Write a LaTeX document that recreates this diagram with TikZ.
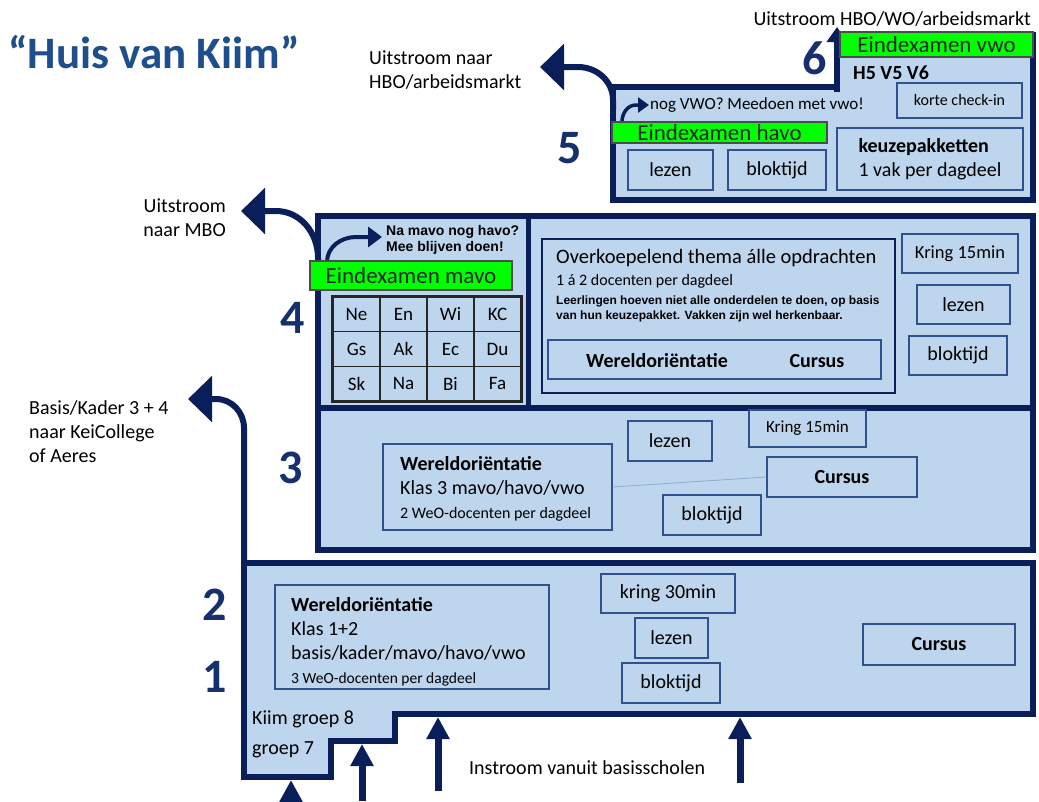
\documentclass[tikz,border=0pt]{standalone}
\usepackage{fontspec}
\setmainfont{Carlito}
\newfontfamily\arialfont{Liberation Sans}
\usetikzlibrary{arrows.meta,positioning}

\definecolor{navy}{RGB}{10,30,90}
\definecolor{numblue}{RGB}{22,48,110}
\definecolor{kiimblue}{RGB}{31,78,140}
\definecolor{lightfill}{RGB}{189,214,238}
\definecolor{boxline}{RGB}{47,82,143}
\definecolor{examgreen}{RGB}{0,255,0}
\definecolor{linkblue}{RGB}{140,172,210}

\tikzset{
  wall/.style={draw=navy, line width=6pt, fill=lightfill},
  exit/.style={draw=navy, line width=6pt, -{Triangle[width=45pt,length=24pt]}},
  entry/.style={draw=navy, line width=7pt, -{Triangle[width=22pt,length=22pt]}},
  hook/.style={draw=navy, line width=4pt, -{Triangle[width=20pt,length=14pt]}},
  part/.style={draw=boxline, line width=1.3pt, fill=lightfill, inner sep=0pt,
    font=\fontsize{20}{24}\selectfont},
  exam/.style={draw=black!70, line width=1.3pt, fill=examgreen, inner sep=0pt,
    text=black!85, font=\fontsize{23}{26}\selectfont},
  vak/.style={draw=black!85, line width=1.3pt, minimum width=47, minimum height=34.67,
    inner sep=0pt, font=\fontsize{19}{22}\selectfont},
  lbl/.style={inner sep=0pt, font=\fontsize{20}{24}\selectfont},
  bignum/.style={inner sep=0pt, text=numblue, font=\fontsize{48}{50}\selectfont\bfseries}
}

\begin{document}
\begin{tikzpicture}[x=1pt,y=-1pt]
  \useasboundingbox (0,0) rectangle (1039,801);

  % title
  \node[inner sep=0pt, anchor=west, text=kiimblue, font=\fontsize{45}{50}\selectfont\bfseries]
    (title) at (8,52) {“Huis van Kiim”};

  %floor 5 and 6
  \draw[wall] (613,200) -- (613,87) -- (837,87) -- (837,35) -- (1033,35) -- (1033,200) -- cycle;
  \draw[exit] (613,110) -- (613,100) to[out=90,in=0] (578,67) -- (540,67);
  \draw[draw=navy, line width=6pt, -{Triangle[width=20pt,length=15pt]}] (837,92) -- (837,27);

  %floor 4
  \draw[wall] (318,216) rectangle (1033,408);
  \draw[navy, line width=5pt] (528,216) -- (528,408);
  \draw[exit] (318,270) -- (318,258) to[out=90,in=0] (276,211) -- (241,211);

  %floor 3
  \draw[wall] (318,408) rectangle (1033,550);

  %floor 1 and 2
  \draw[wall] (244,563) -- (1033,563) -- (1033,714) -- (395,714) -- (395,741)
    -- (331,741) -- (331,777) -- (244,777) -- cycle;
  \draw[exit] (244,563) -- (244,428) to[out=90,in=0] (216,399) -- (188,399);

  % instroom arrows
  \coordinate (in7) at (291,801);  \coordinate (in7top) at (291,780);
  \coordinate (in8) at (362,801);  \coordinate (in8top) at (362,744);
  \coordinate (inA) at (438,791);  \coordinate (inAtop) at (438,717);
  \coordinate (inB) at (740,783);  \coordinate (inBtop) at (740,717);
  \foreach \from/\to in {in7/in7top, in8/in8top, inA/inAtop, inB/inBtop}
    \draw[entry] (\from) -- (\to);

  % outside labels
  \node[lbl, anchor=west, align=left] (outhbo) at (369,70) {Uitstroom naar\\HBO/arbeidsmarkt};
  \node[lbl, anchor=east] (outwo) at (1031,19) {Uitstroom HBO/WO/arbeidsmarkt};
  \node[lbl, anchor=east, align=right] (outmbo) at (226,218) {Uitstroom\\naar MBO};
  \node[lbl, anchor=west, align=left] (outbk) at (29,432) {Basis/Kader 3 + 4\\naar KeiCollege\\of Aeres};
  \node[lbl, anchor=west] (instroom) at (469,768) {Instroom vanuit basisscholen};

  % year numbers
  \node[bignum] (n6) at (815,58) {6};
  \node[bignum] (n5) at (570,148) {5};
  \node[bignum] (n4) at (293,318) {4};
  \node[bignum] (n3) at (291,468) {3};
  \node[bignum] (n2) at (215,605) {2};
  \node[bignum] (n1) at (215,677) {1};

  % inside 5 and 6
  \node[exam, minimum width=193, minimum height=25] (examvwo) at (936.5,44.5) {Eindexamen vwo};
  \node[lbl, anchor=west, font=\fontsize{20}{24}\selectfont\bfseries] (h5v5) at (853,73) {H5 V5 V6};
  \node[part, minimum width=125, minimum height=35, font=\fontsize{16}{19}\selectfont] (checkin) at (959.5,100.5) {korte check-in};
  \node[part, minimum width=186, minimum height=62, align=left] (keuze) at (930,159) {\textbf{keuzepakketten}\\1 vak per dagdeel};
  \node[part, minimum width=85, minimum height=40] (lezen5) at (670.5,170) {lezen};
  \node[part, minimum width=98, minimum height=40] (blok5) at (777,170) {bloktijd};
  \draw[hook, line width=3.5pt, -{Triangle[width=15pt,length=11pt]}] (622,122) to[out=90,in=180] (636,105) -- (649,105);
  \node[lbl, anchor=west, font=\fontsize{17}{20}\selectfont] (nogvwo) at (650,105) {nog VWO? Meedoen met vwo!};
  \node[exam, minimum width=215, minimum height=21] (examhavo) at (719.5,132.5) {Eindexamen havo};

  % inside 4, left part
  \draw[hook] (327,262) to[out=90,in=180] (356,237) -- (382,237);
  \node[inner sep=0pt, anchor=west, align=left, font=\arialfont\bfseries\fontsize{14}{16}\selectfont]
    (namavo) at (386,240) {Na mavo nog havo?\\Mee blijven doen!};
  \node[exam, minimum width=202, minimum height=29] (exammavo) at (411,275.5) {Eindexamen mavo};
  \foreach \vakrij [count=\r] in {{Ne,En,Wi,KC},{Gs,Ak,Ec,Du},{Sk,Na,Bi,Fa}}
    \foreach \vak [count=\c] in \vakrij
      \node[vak] (vak-\r-\c) at ({333+47*(\c-0.5)},{297+34.67*(\r-0.5)}) {\vak};
  \draw[black!85, line width=2pt] (vak-1-1.north west) rectangle (vak-3-4.south east);

  % inside 4, right part
  \node[part, draw=navy, line width=2.5pt, minimum width=353, minimum height=154] (thema) at (718.5,316) {};
  \node[lbl, anchor=west, font=\fontsize{20.5}{24}\selectfont] (thematitel) at (556,258) {Overkoepelend thema álle opdrachten};
  \node[lbl, anchor=west, font=\fontsize{16}{19}\selectfont] (themadoc) at (556,281) {1 á 2 docenten per dagdeel};
  \node[inner sep=0pt, anchor=west, align=left, font=\arialfont\bfseries\fontsize{12}{15}\selectfont]
    (themanoot) at (556,309) {Leerlingen hoeven niet alle onderdelen te doen, op basis\\van hun keuzepakket. Vakken zijn wel herkenbaar.};
  \node[part, minimum width=333, minimum height=39] (wocursus4) at (714.5,359.5) {};
  \node[lbl, font=\fontsize{20}{24}\selectfont\bfseries] (wo4) at (657,361) {Wereldoriëntatie};
  \node[lbl, font=\fontsize{20}{24}\selectfont\bfseries] (cursus4) at (817,361) {Cursus};
  \node[part, minimum width=116, minimum height=39, font=\fontsize{18.5}{22}\selectfont] (kring4) at (960,253.5) {Kring 15min};
  \node[part, minimum width=93, minimum height=39] (lezen4) at (963.5,304.5) {lezen};
  \node[part, minimum width=98, minimum height=39] (blok4) at (958,355.5) {bloktijd};

  % inside 3
  \node[part, minimum width=229, minimum height=86] (wo3) at (497.5,487) {};
  \node[lbl, anchor=west, align=left] (wo3txt) at (400,489)
    {\textbf{Wereldoriëntatie}\\Klas 3 mavo/havo/vwo\\{\fontsize{16}{19}\selectfont 2 WeO-docenten per dagdeel}};
  \node[part, minimum width=84, minimum height=40] (lezen3) at (670,441) {lezen};
  \node[part, minimum width=117, minimum height=37, font=\fontsize{17}{20}\selectfont] (kring3) at (807.5,428.5) {Kring 15min};
  \node[part, minimum width=150, minimum height=40, font=\fontsize{20}{24}\selectfont\bfseries] (cursus3) at (842,477) {Cursus};
  \node[part, minimum width=98, minimum height=40] (blok3) at (712,515) {bloktijd};
  \draw[linkblue, line width=0.8pt] (wo3.east) -- (cursus3.west);

  % inside 1 and 2
  \node[part, minimum width=274, minimum height=104] (wo1) at (412,637) {};
  \node[lbl, anchor=west, align=left] (wo1txt) at (291,642)
    {\textbf{Wereldoriëntatie}\\Klas 1+2\\basis/kader/mavo/havo/vwo\\{\fontsize{15.5}{18}\selectfont 3 WeO-docenten per dagdeel}};
  \node[part, minimum width=134, minimum height=39] (kring1) at (668,593.5) {kring 30min};
  \node[part, minimum width=73, minimum height=40] (lezen1) at (671.5,638) {lezen};
  \node[part, minimum width=98, minimum height=40] (blok1) at (671,683) {bloktijd};
  \node[part, minimum width=152, minimum height=41, font=\fontsize{20}{24}\selectfont\bfseries] (cursus1) at (939,644.5) {Cursus};
  \node[lbl, anchor=west] (groep8) at (252,719) {Kiim groep 8};
  \node[lbl, anchor=west] (groep7) at (252,750) {groep 7};
\end{tikzpicture}
\end{document}
